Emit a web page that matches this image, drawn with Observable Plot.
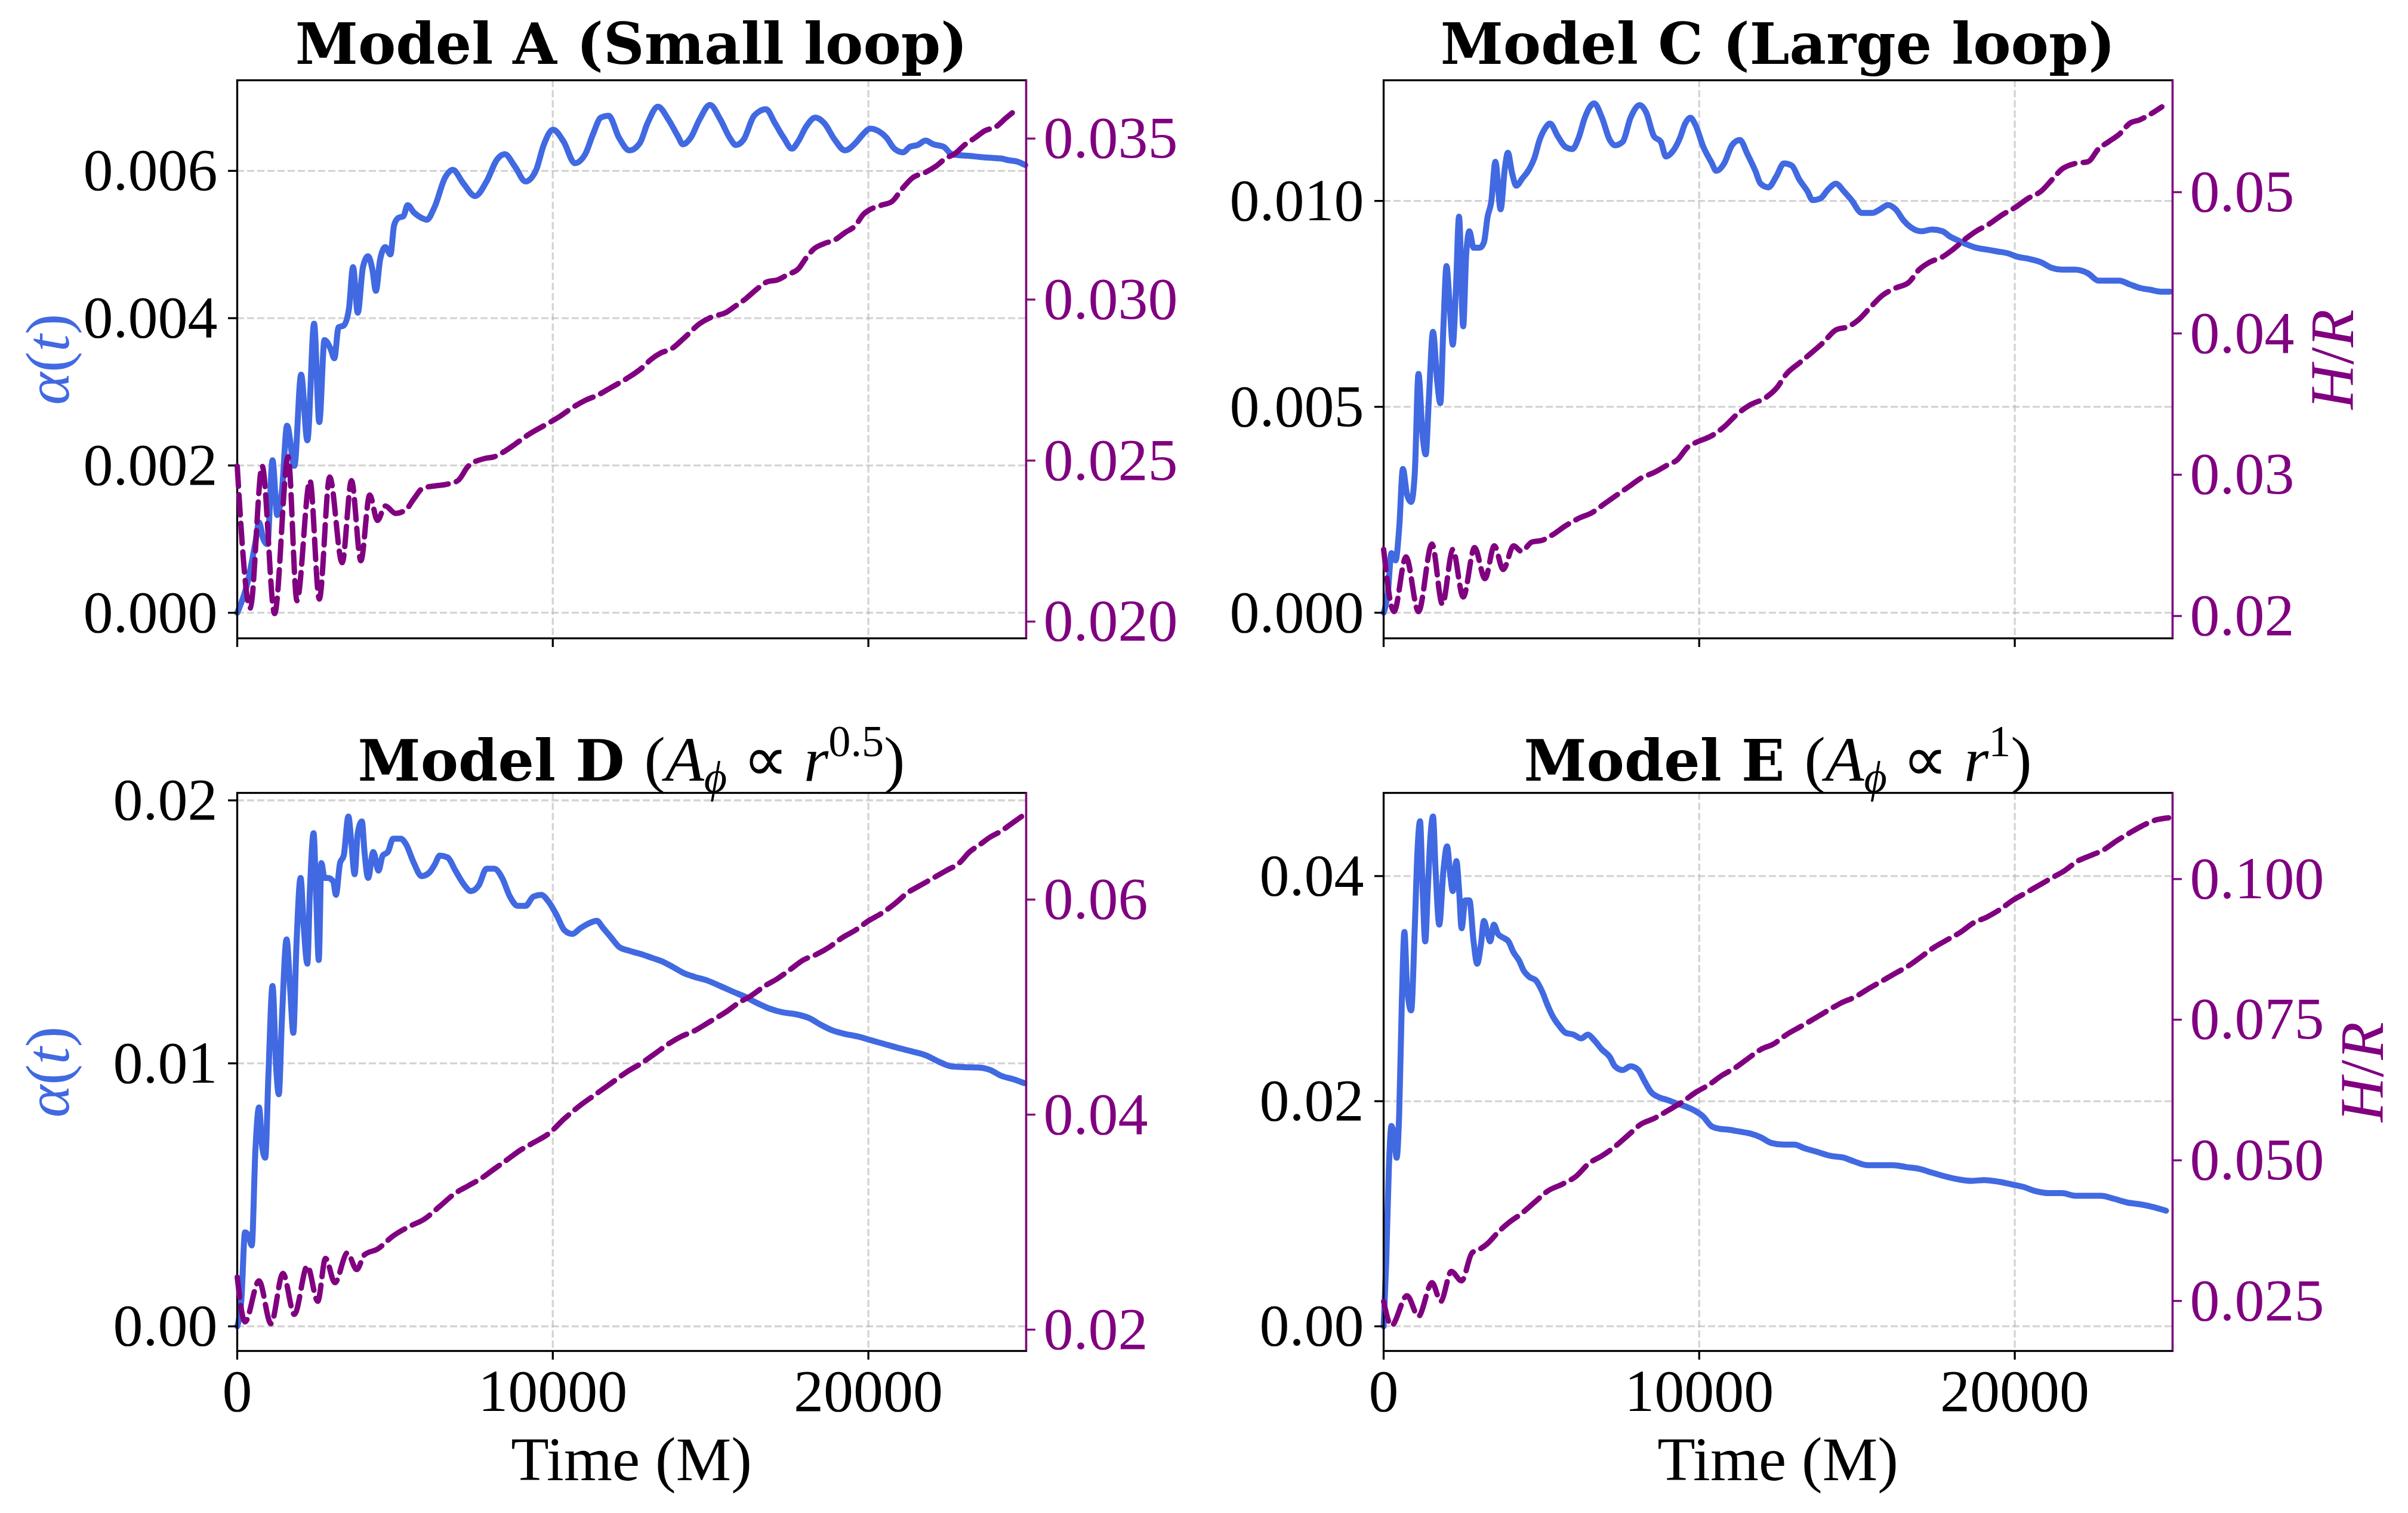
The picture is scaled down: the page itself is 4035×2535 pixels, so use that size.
<!DOCTYPE html>
<html><head><meta charset="utf-8">
<script src="https://cdn.jsdelivr.net/npm/d3@7"></script>
<script src="https://cdn.jsdelivr.net/npm/@observablehq/plot@0.6"></script>
<style>
html,body{margin:0;padding:0;background:#fff;}
#fig{position:relative;width:4035px;height:2535px;background:#fff;overflow:hidden;}
.pane{position:absolute;}
.title{position:absolute;white-space:nowrap;transform:translateX(-50%);line-height:1;font-family:"DejaVu Serif",serif;font-weight:bold;font-size:95px;color:#000;}
.title .m{font-family:"Liberation Serif",serif;font-weight:normal;font-size:106px;}
.title sub{font-size:70%;vertical-align:-0.25em;line-height:0;}
.title sup{font-size:70%;vertical-align:0.55em;line-height:0;}
.lab{position:absolute;white-space:nowrap;line-height:1;font-family:"Liberation Serif",serif;font-size:104px;}
.rot{transform:translate(-50%,-50%) rotate(-90deg);}
.xl{transform:translateX(-50%);}
</style></head>
<body><div id="fig"></div>
<script>
// ---------- shared axis data ----------
const xDomain = [0, 25000];
const xTicks = [0, 10000, 20000];

// ---------- Model A (Small loop) ----------
const tAlphaA = [0,329,576,691,823,955,1119,1267,1416,1580,1811,2025,2222,2436,2601,2765,2963,3078,3210,3375,3539,3671,3819,3984,4148,4280,4395,4527,4692,4856,4971,5103,5268,5399,5597,5844,6008,6255,6584,6831,7161,7539,7901,8231,8477,8807,9136,9465,9712,10008,10338,10700,11029,11276,11523,11770,12099,12428,12757,13004,13333,13663,13959,14123,14370,14650,14980,15309,15605,15803,16049,16379,16757,17037,17317,17580,17778,18025,18321,18601,18930,19259,19589,19836,20050,20280,20576,20823,21103,21317,21564,21811,22058,22387,22634,22881,23210,23539,23869,24198,24445,24692,24972];
const alphaA = [0,0.000411,0.000955,0.001228,0.001005,0.000931,0.002069,0.001327,0.001649,0.00254,0.001995,0.003233,0.002342,0.003926,0.002589,0.003703,0.003579,0.003455,0.003876,0.003901,0.004124,0.004693,0.004074,0.004693,0.004842,0.004668,0.004371,0.004792,0.004965,0.004866,0.005262,0.005361,0.005386,0.005535,0.005436,0.005361,0.005337,0.00551,0.005906,0.006015,0.005832,0.005658,0.005856,0.006153,0.006228,0.006054,0.005856,0.006005,0.006351,0.006559,0.006401,0.006104,0.006228,0.0065,0.006723,0.006748,0.00645,0.006277,0.006376,0.006649,0.006871,0.006698,0.006475,0.006361,0.00645,0.006698,0.006896,0.006698,0.00645,0.006351,0.006426,0.006748,0.006837,0.006649,0.00645,0.006302,0.006401,0.006599,0.006723,0.006649,0.006426,0.006277,0.006376,0.0065,0.006574,0.00655,0.00645,0.006302,0.006252,0.006327,0.006351,0.006411,0.006361,0.006327,0.006228,0.006213,0.006203,0.006188,0.006178,0.006168,0.006144,0.006129,0.006079];
const tHrA = [0,412,790,1185,1613,1893,2305,2601,2930,3325,3621,3918,4198,4444,4692,5021,5350,5597,5893,6255,6667,6996,7325,7819,8148,8477,8807,9218,9712,10206,10617,11029,11440,11852,12346,12840,13086,13416,13745,14156,14650,15062,15473,15803,16132,16461,16790,17119,17449,17778,18025,18272,18601,18930,19259,19589,19836,20082,20412,20741,21070,21399,21811,22140,22469,22716,23045,23375,23704,24033,24362,24725];
const hrA = [0.02483,0.02042,0.02483,0.02025,0.02512,0.02065,0.02438,0.0207,0.02449,0.02183,0.02438,0.02189,0.02393,0.02314,0.02359,0.02336,0.02348,0.02381,0.02415,0.02421,0.02427,0.02438,0.02483,0.02506,0.02512,0.02529,0.02551,0.0258,0.02608,0.02636,0.02664,0.02687,0.02704,0.02727,0.02755,0.02789,0.02812,0.02834,0.02846,0.0288,0.02925,0.02947,0.02959,0.02981,0.03004,0.03032,0.03055,0.03061,0.03078,0.03095,0.03129,0.03157,0.03174,0.03185,0.03208,0.0323,0.03264,0.03281,0.03293,0.03304,0.03344,0.03378,0.03395,0.03414,0.0344,0.03451,0.0348,0.03502,0.03525,0.03536,0.03564,0.03593];
const alphaDomainA = [-0.000347, 0.00723];
const hrDomainA = [0.01948, 0.03681];
const alphaTicksA = [0, 0.002, 0.004, 0.006];
const hrTicksA = [0.020, 0.025, 0.030, 0.035];

// ---------- Model C (Large loop) ----------
const tAlphaC = [0,132,247,379,494,610,741,873,988,1104,1236,1334,1433,1565,1697,1796,1895,1993,2092,2191,2290,2389,2521,2619,2718,2850,3048,3179,3295,3410,3542,3707,3838,3937,4069,4201,4399,4613,4777,4942,5107,5272,5519,5766,5980,6178,6375,6672,6919,7166,7331,7578,7825,8122,8319,8566,8781,8945,9176,9390,9555,9720,9884,10132,10379,10543,10790,11038,11285,11532,11779,11944,12191,12438,12685,12932,13179,13426,13591,13838,14085,14332,14579,14827,15156,15486,15733,15980,16227,16474,16721,17051,17380,17710,17957,18204,18451,18780,19110,19439,19769,20098,20428,20840,21169,21499,21910,22322,22652,22981,23311,23640,23970,24299,24629,24909];
const alphaC = [0,0.000471,0.001448,0.00127,0.002069,0.00349,0.002869,0.002691,0.003401,0.005799,0.00429,0.003845,0.005178,0.006821,0.005622,0.005089,0.006954,0.008419,0.007487,0.00651,0.007842,0.009618,0.006954,0.00873,0.009263,0.008863,0.008863,0.008996,0.009618,0.009973,0.01095,0.009796,0.01077,0.01117,0.01068,0.01037,0.01055,0.01077,0.01104,0.01148,0.01175,0.01188,0.01157,0.01131,0.01126,0.01153,0.01202,0.01237,0.01202,0.01148,0.01135,0.01144,0.01202,0.01233,0.01215,0.01157,0.01144,0.01108,0.01122,0.01153,0.01188,0.01202,0.01184,0.01131,0.01095,0.01073,0.01091,0.01135,0.01148,0.01113,0.01073,0.01042,0.01033,0.01059,0.01091,0.01086,0.01051,0.01024,0.01002,0.01006,0.01028,0.01042,0.01024,0.01002,0.009707,0.009707,0.009796,0.009902,0.009796,0.009529,0.009352,0.009263,0.009307,0.009263,0.00913,0.009041,0.008952,0.008863,0.008819,0.008774,0.00873,0.008641,0.008597,0.008508,0.008375,0.00833,0.00833,0.008242,0.008064,0.008064,0.008064,0.007975,0.007886,0.007842,0.007797,0.007797];
const tHrC = [0,329,708,1104,1532,1862,2191,2521,2883,3212,3509,3789,4119,4366,4695,5025,5354,5766,6178,6590,7001,7413,7825,8155,8566,8978,9308,9637,9967,10379,10790,11202,11614,12108,12438,12767,13179,13591,13921,14332,14744,15074,15403,15815,16227,16639,16968,17298,17710,18039,18451,18780,19192,19604,20016,20428,20840,21169,21499,21910,22322,22652,22981,23311,23640,23970,24299,24662];
const hrC = [0.02471,0.02031,0.02419,0.02031,0.0251,0.02083,0.02471,0.02135,0.02484,0.02264,0.02497,0.02329,0.02497,0.02458,0.02523,0.02536,0.02575,0.02639,0.02691,0.0273,0.02795,0.0286,0.02924,0.02976,0.03015,0.03067,0.03106,0.03196,0.03235,0.03274,0.03339,0.03429,0.03494,0.03546,0.0361,0.03714,0.03792,0.03869,0.03934,0.04025,0.0405,0.04102,0.0418,0.04271,0.04322,0.04361,0.04452,0.04504,0.04542,0.04594,0.04672,0.04724,0.04775,0.0484,0.04892,0.04957,0.05008,0.05086,0.05164,0.05203,0.05216,0.05306,0.05358,0.0541,0.05487,0.05513,0.05552,0.05604];
const alphaDomainC = [-0.000622, 0.01293];
const hrDomainC = [0.01842, 0.05792];
const alphaTicksC = [0, 0.005, 0.010];
const hrTicksC = [0.02, 0.03, 0.04, 0.05];

// ---------- Model D (A_phi ∝ r^0.5) ----------
const tAlphaD = [0,132,247,362,461,576,691,790,889,988,1119,1235,1317,1416,1564,1679,1778,1877,2008,2107,2222,2305,2420,2502,2584,2667,2765,2881,3045,3128,3259,3375,3523,3621,3720,3819,3951,4033,4148,4313,4477,4609,4774,4938,5185,5350,5597,5844,6091,6255,6420,6667,6914,7161,7407,7654,7901,8148,8395,8642,8889,9136,9383,9630,9877,10124,10370,10617,10864,11193,11391,11605,11852,12099,12428,12840,13169,13498,13827,14156,14486,14897,15309,15720,16132,16461,16873,17284,17696,18107,18519,18848,19259,19671,20082,20494,20905,21399,21811,22222,22634,23045,23457,23869,24198,24610,24939];
const alphaD = [0,0.001021,0.003574,0.003433,0.003078,0.006695,0.008326,0.006837,0.006411,0.009532,0.01294,0.009815,0.008822,0.01166,0.01471,0.01279,0.01116,0.0145,0.01705,0.01521,0.01379,0.01662,0.01875,0.01634,0.01393,0.01762,0.01705,0.01705,0.01691,0.01641,0.01762,0.0179,0.01939,0.01833,0.01719,0.01875,0.0192,0.01804,0.01705,0.01804,0.01733,0.0179,0.01804,0.01854,0.01854,0.01833,0.01762,0.01712,0.01726,0.01755,0.0179,0.01783,0.01733,0.01684,0.01655,0.01677,0.0174,0.0174,0.01705,0.01634,0.01599,0.01599,0.01634,0.01641,0.01613,0.01563,0.01506,0.01492,0.01513,0.01535,0.01542,0.01513,0.01478,0.01443,0.01428,0.01414,0.014,0.01386,0.01365,0.01343,0.01329,0.01315,0.01294,0.01272,0.01251,0.0123,0.01208,0.01194,0.01187,0.01173,0.01145,0.01126,0.01112,0.01102,0.01088,0.01074,0.0106,0.01045,0.01031,0.01007,0.009886,0.009858,0.009844,0.009744,0.009532,0.00939,0.009248];
const tHrD = [0,247,691,1070,1449,1811,2222,2551,2798,3095,3490,3786,4033,4444,4938,5432,5926,6420,6914,7325,7737,8148,8560,8971,9383,9877,10370,10864,11358,11852,12346,12840,13251,13663,14074,14486,14980,15473,15885,16296,16708,17119,17531,17942,18354,18765,19177,19589,20000,20412,20823,21235,21646,22058,22469,22881,23210,23539,23869,24198,24527,24857];
const hrD = [0.02489,0.02073,0.02454,0.02056,0.02524,0.02142,0.02593,0.02264,0.02663,0.02437,0.02715,0.02559,0.02697,0.02749,0.02871,0.02957,0.03027,0.03148,0.0327,0.03339,0.03408,0.03495,0.03582,0.03669,0.03738,0.03825,0.03963,0.04085,0.04189,0.04293,0.04397,0.04484,0.0457,0.04657,0.04727,0.04779,0.04865,0.04952,0.05039,0.05108,0.05195,0.05264,0.05351,0.05438,0.0549,0.05559,0.05646,0.05715,0.05802,0.05871,0.05958,0.06062,0.06132,0.06201,0.0627,0.0634,0.06444,0.06513,0.06583,0.06635,0.06704,0.06773];
const alphaDomainD = [-0.000936, 0.020284];
const hrDomainD = [0.01802, 0.06992];
const alphaTicksD = [0, 0.01, 0.02];
const hrTicksD = [0.02, 0.04, 0.06];

// ---------- Model E (A_phi ∝ r^1) ----------
const tAlphaE = [0,82,165,247,329,412,494,577,659,741,873,988,1071,1153,1236,1318,1400,1483,1565,1647,1763,1895,2010,2109,2191,2306,2389,2471,2586,2718,2850,2965,3081,3179,3295,3377,3492,3624,3789,3954,4119,4283,4448,4613,4827,5025,5189,5354,5552,5766,6013,6260,6474,6672,6919,7166,7331,7578,7825,8072,8237,8484,8731,8978,9308,9637,9884,10132,10379,10626,10955,11285,11614,11944,12273,12685,13014,13344,13756,14168,14579,14909,15321,15733,16145,16556,16968,17380,17792,18204,18616,19027,19522,19934,20263,20675,21087,21499,21910,22322,22734,23146,23558,23970,24381,24793];
const alphaE = [0,0.0057,0.01399,0.0178,0.01697,0.01498,0.01896,0.0289,0.03503,0.03022,0.02807,0.03553,0.04215,0.04487,0.03884,0.0342,0.03884,0.04348,0.0453,0.0405,0.03569,0.0405,0.04265,0.04017,0.03867,0.04133,0.03884,0.03536,0.03785,0.03785,0.0342,0.03221,0.03387,0.03602,0.03486,0.0342,0.03569,0.03486,0.03453,0.0342,0.03321,0.03254,0.03155,0.03105,0.03072,0.02973,0.02857,0.02757,0.02674,0.02608,0.02592,0.02558,0.02592,0.02542,0.02459,0.02393,0.0231,0.02277,0.0231,0.02277,0.02194,0.02078,0.02035,0.02012,0.01978,0.01945,0.01912,0.01862,0.0178,0.01756,0.01746,0.0173,0.01713,0.0168,0.0163,0.01614,0.01614,0.01581,0.01548,0.01514,0.01498,0.01465,0.01432,0.01432,0.01432,0.01415,0.01399,0.01365,0.01332,0.01306,0.01292,0.01299,0.01283,0.01259,0.01239,0.012,0.01183,0.01183,0.0116,0.0116,0.0116,0.01133,0.011,0.01084,0.0106,0.01027];
const tHrE = [0,247,741,1104,1532,1812,2142,2471,2801,3048,3295,3624,3954,4366,4777,5189,5683,6095,6507,6919,7331,7743,8155,8566,8978,9473,9884,10296,10708,11120,11532,11944,12356,12767,13179,13591,14085,14497,14909,15403,15815,16227,16639,17051,17462,17874,18286,18698,19110,19522,19934,20346,20757,21169,21581,21993,22405,22816,23228,23640,24052,24464,24876];
const hrE = [0.02493,0.02062,0.02593,0.02228,0.02825,0.02493,0.03024,0.02858,0.03355,0.03422,0.03521,0.0372,0.03886,0.04052,0.04251,0.0445,0.04582,0.04715,0.04947,0.0508,0.05245,0.05444,0.05643,0.05743,0.05875,0.06041,0.06207,0.06339,0.06505,0.06638,0.06804,0.06969,0.07069,0.07235,0.07367,0.075,0.07666,0.07798,0.07898,0.08063,0.08196,0.08329,0.08461,0.08627,0.08793,0.08925,0.09058,0.09224,0.09323,0.09456,0.09622,0.09754,0.09887,0.1002,0.1015,0.1032,0.1042,0.1052,0.1068,0.1082,0.1095,0.1105,0.1109];
const alphaDomainE = [-0.00219, 0.04739];
const hrDomainE = [0.01611, 0.11532];
const alphaTicksE = [0, 0.02, 0.04];
const hrTicksE = [0.025, 0.050, 0.075, 0.100];

// ---------- colours ----------
const ALPHA_COLOR = "#4169E1";
const HR_COLOR = "#800080";

// ---------- layout ----------
const FW = 1322, FH = 935;            // frame size
const ML = 330, MR = 330, MT = 40, MB = 230;
const fig = document.getElementById("fig");

function zip(ts, vs) {
  const n = Math.min(ts.length, vs.length);
  const out = [];
  for (let i = 0; i < n; i++) out.push({t: ts[i], v: vs[i]});
  return out;
}

function panel(cfg) {
  const W = FW + ML + MR, H = FH + MT + MB;
  const style = {background: "transparent", fontFamily: "'Liberation Serif', serif", fontSize: "100px", overflow: "visible", maxWidth: "none"};
  const grid = {stroke: "#b0b0b0", strokeOpacity: 0.55, strokeWidth: 3.3, strokeDasharray: "12,5"};
  const p1 = Plot.plot({
    width: W, height: H, marginLeft: ML, marginRight: MR, marginTop: MT, marginBottom: MB, style,
    x: {domain: xDomain},
    y: {domain: cfg.alphaDomain},
    marks: [
      Plot.gridX(xTicks, grid),
      Plot.gridY(cfg.alphaTicks, grid),
      Plot.line(zip(cfg.tAlpha, cfg.alpha), {x: "t", y: "v", stroke: ALPHA_COLOR, strokeWidth: 10, curve: "monotone-x"}),
      Plot.axisX(xTicks, {tickSize: 15, tickPadding: 14, strokeWidth: 3.3, color: "black",
        tickFormat: cfg.showX ? (d => String(d)) : (() => ""), label: null}),
      Plot.axisY(cfg.alphaTicks, {anchor: "left", tickSize: 15, tickPadding: 18, strokeWidth: 3.3, color: "black",
        tickFormat: d3.format(cfg.alphaFmt), label: null}),
      Plot.frame({stroke: "black", strokeWidth: 3.3})
    ]
  });
  const p2 = Plot.plot({
    width: W, height: H, marginLeft: ML, marginRight: MR, marginTop: MT, marginBottom: MB, style,
    x: {domain: xDomain, axis: null},
    y: {domain: cfg.hrDomain},
    marks: [
      Plot.line(zip(cfg.tHr, cfg.hr), {x: "t", y: "v", stroke: HR_COLOR, strokeWidth: 9, strokeDasharray: "34,14", curve: "monotone-x"}),
      Plot.ruleX([xDomain[1]], {stroke: HR_COLOR, strokeWidth: 3.3}),
      Plot.axisY(cfg.hrTicks, {anchor: "right", tickSize: 15, tickPadding: 14, strokeWidth: 3.3, color: HR_COLOR,
        tickFormat: d3.format(cfg.hrFmt), label: null})
    ]
  });
  for (const p of [p1, p2]) {
    const d = document.createElement("div");
    d.className = "pane";
    d.style.left = (cfg.left - ML) + "px";
    d.style.top = (cfg.top - MT) + "px";
    d.appendChild(p);
    fig.appendChild(d);
  }
  // title
  const t = document.createElement("div");
  t.className = "title";
  t.style.left = (cfg.left + FW / 2) + "px";
  t.style.top = (cfg.top - 108) + "px";
  t.innerHTML = cfg.title;
  fig.appendChild(t);
  if (cfg.alphaLabel) {
    const l = document.createElement("div");
    l.className = "lab rot";
    l.style.left = "80px";
    l.style.top = (cfg.top + FH / 2) + "px";
    l.style.color = ALPHA_COLOR;
    l.innerHTML = "<i>α</i>(<i>t</i>)";
    fig.appendChild(l);
  }
  if (cfg.hrLabelOffset) {
    const l = document.createElement("div");
    l.className = "lab rot";
    l.style.left = (cfg.left + FW + cfg.hrLabelOffset) + "px";
    l.style.top = (cfg.top + FH / 2) + "px";
    l.style.color = HR_COLOR;
    l.innerHTML = "<i>H</i>/<i>R</i>";
    fig.appendChild(l);
  }
  if (cfg.showX) {
    const l = document.createElement("div");
    l.className = "lab xl";
    l.style.left = (cfg.left + FW / 2) + "px";
    l.style.top = (cfg.top + FH + 130) + "px";
    l.style.color = "#000";
    l.textContent = "Time (M)";
    fig.appendChild(l);
  }
}

panel({left: 397, top: 134, title: "Model A (Small loop)",
  tAlpha: tAlphaA, alpha: alphaA, tHr: tHrA, hr: hrA,
  alphaDomain: alphaDomainA, hrDomain: hrDomainA, alphaTicks: alphaTicksA, hrTicks: hrTicksA,
  alphaFmt: ".3f", hrFmt: ".3f", showX: false, alphaLabel: true, hrLabelOffset: 0});
panel({left: 2318, top: 134, title: "Model C (Large loop)",
  tAlpha: tAlphaC, alpha: alphaC, tHr: tHrC, hr: hrC,
  alphaDomain: alphaDomainC, hrDomain: hrDomainC, alphaTicks: alphaTicksC, hrTicks: hrTicksC,
  alphaFmt: ".3f", hrFmt: ".2f", showX: false, alphaLabel: false, hrLabelOffset: 268});
panel({left: 397, top: 1328, title: 'Model D <span class="m">(<i>A</i><sub><i>ϕ</i></sub> ∝ <i>r</i><sup>0.5</sup>)</span>',
  tAlpha: tAlphaD, alpha: alphaD, tHr: tHrD, hr: hrD,
  alphaDomain: alphaDomainD, hrDomain: hrDomainD, alphaTicks: alphaTicksD, hrTicks: hrTicksD,
  alphaFmt: ".2f", hrFmt: ".2f", showX: true, alphaLabel: true, hrLabelOffset: 0});
panel({left: 2318, top: 1328, title: 'Model E <span class="m">(<i>A</i><sub><i>ϕ</i></sub> ∝ <i>r</i><sup>1</sup>)</span>',
  tAlpha: tAlphaE, alpha: alphaE, tHr: tHrE, hr: hrE,
  alphaDomain: alphaDomainE, hrDomain: hrDomainE, alphaTicks: alphaTicksE, hrTicks: hrTicksE,
  alphaFmt: ".2f", hrFmt: ".3f", showX: true, alphaLabel: false, hrLabelOffset: 318});
</script>
</body></html>
